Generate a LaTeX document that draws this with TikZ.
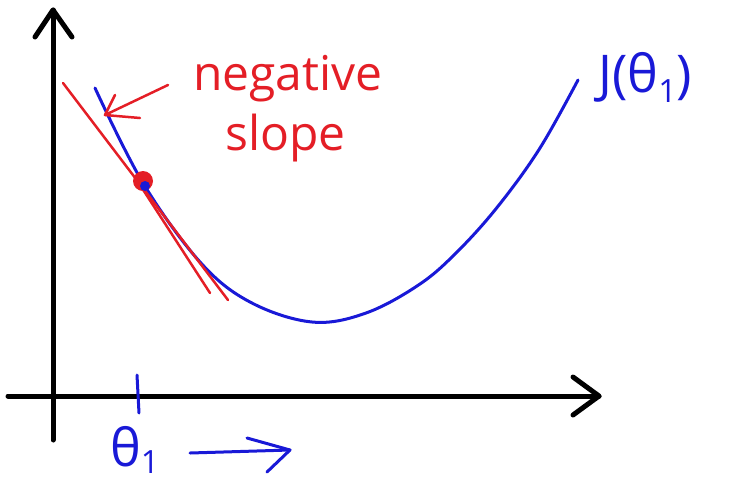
\documentclass[tikz,border=0pt]{standalone}
\usepackage{fontspec}
\setmainfont{Open Sans}
\definecolor{penblue}{RGB}{25,25,215}
\definecolor{penred}{RGB}{228,30,38}
\begin{document}
\begin{tikzpicture}[x=1pt,y=-1pt,
  axisline/.style={line width=5pt,black,line cap=round,line join=round},
  blueline/.style={line width=3pt,penblue,line cap=round,line join=round},
  redline/.style={line width=2.5pt,penred,line cap=round,line join=round},
  redtext/.style={text=penred,inner sep=0pt,font=\fontsize{48}{50}\selectfont},
  bluetext/.style={text=penblue,inner sep=0pt,font=\fontsize{52}{54}\selectfont}]
\useasboundingbox (0,0) rectangle (731,491);
% axes
\coordinate (ytop) at (53,10);
\coordinate (ybot) at (53,440);
\coordinate (xleft) at (8,396);
\coordinate (xright) at (599,396);
\draw[axisline] (ybot) -- (ytop);
\draw[axisline] (35,37) -- (ytop) -- (72,37);
\draw[axisline] (xleft) -- (xright);
\draw[axisline] (573,377) -- (xright) -- (573,415);
% cost curve
\draw[blueline] plot[smooth,tension=0.6] coordinates {(95,88) (143,183) (200,262) (250,302) (312,322) (366,313) (420,284) (459,250) (499,205) (540,148) (578,80)};
% tangent lines
\coordinate (t1) at (63,83);
\coordinate (t2) at (228,300);
\draw[redline] (t1) -- (t2);
\draw[redline] (140,185) -- (210,293);
% point
\node[circle,fill=penred,minimum size=20pt,inner sep=0pt] (pt) at (143,181) {};
\fill[penblue] (145,186) circle (5pt);
% labels
\node[redtext,anchor=base west] (neg) at (193,90) {negative};
\node[redtext,anchor=base west] (slope) at (225,150) {slope};
\coordinate (arrtip) at (105,115);
\draw[redline] (neg.west |- 0,85) ++(-25,0) -- (arrtip);
\draw[redline] (115,95) -- (arrtip) -- (140,118);
\node[bluetext,anchor=base west] (J) at (598,92) {J(θ\raisebox{-0.2em}{\fontsize{32}{32}\selectfont 1})};
% theta tick and label
\coordinate (tickt) at (137,375);
\coordinate (tickb) at (139,413);
\draw[blueline] (tickt) -- (tickb);
\node[bluetext,anchor=base west] (th) at (110,466) {θ\raisebox{-0.15em}{\fontsize{32}{32}\selectfont 1}};
\coordinate (ba1) at (190,453);
\coordinate (ba2) at (290,450);
\draw[blueline] (ba1) -- (ba2);
\draw[blueline] (247,438) -- (ba2) -- (267,472);
\end{tikzpicture}
\end{document}
